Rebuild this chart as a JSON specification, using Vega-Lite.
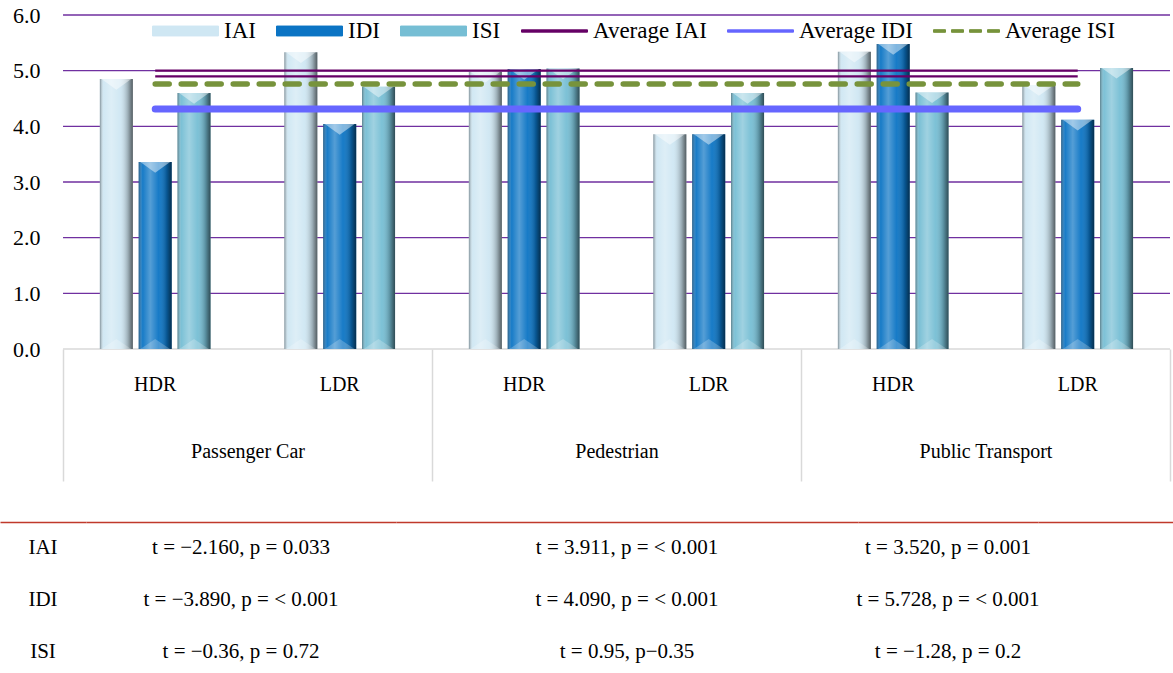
{
  "$schema": "https://vega.github.io/schema/vega-lite/v6.json",
  "padding": {"left": 0, "top": 4, "right": 0, "bottom": 0},
  "background": "white",
  "config": {
    "font": "Liberation Serif",
    "view": {"stroke": null},
    "axis": {"labelColor": "black", "labelFont": "Liberation Serif"},
    "legend": {"labelFont": "Liberation Serif", "labelColor": "black"}
  },
  "datasets": {
    "bars": [
      {"mode": "Passenger Car", "density": "HDR", "cat": "Passenger Car HDR", "series": "IAI", "value": 4.85},
      {"mode": "Passenger Car", "density": "HDR", "cat": "Passenger Car HDR", "series": "IDI", "value": 3.36},
      {"mode": "Passenger Car", "density": "HDR", "cat": "Passenger Car HDR", "series": "ISI", "value": 4.60},
      {"mode": "Passenger Car", "density": "LDR", "cat": "Passenger Car LDR", "series": "IAI", "value": 5.33},
      {"mode": "Passenger Car", "density": "LDR", "cat": "Passenger Car LDR", "series": "IDI", "value": 4.04},
      {"mode": "Passenger Car", "density": "LDR", "cat": "Passenger Car LDR", "series": "ISI", "value": 4.71},
      {"mode": "Pedestrian", "density": "HDR", "cat": "Pedestrian HDR", "series": "IAI", "value": 4.98},
      {"mode": "Pedestrian", "density": "HDR", "cat": "Pedestrian HDR", "series": "IDI", "value": 5.03},
      {"mode": "Pedestrian", "density": "HDR", "cat": "Pedestrian HDR", "series": "ISI", "value": 5.04},
      {"mode": "Pedestrian", "density": "LDR", "cat": "Pedestrian LDR", "series": "IAI", "value": 3.86},
      {"mode": "Pedestrian", "density": "LDR", "cat": "Pedestrian LDR", "series": "IDI", "value": 3.86},
      {"mode": "Pedestrian", "density": "LDR", "cat": "Pedestrian LDR", "series": "ISI", "value": 4.60},
      {"mode": "Public Transport", "density": "HDR", "cat": "Public Transport HDR", "series": "IAI", "value": 5.34},
      {"mode": "Public Transport", "density": "HDR", "cat": "Public Transport HDR", "series": "IDI", "value": 5.48},
      {"mode": "Public Transport", "density": "HDR", "cat": "Public Transport HDR", "series": "ISI", "value": 4.61},
      {"mode": "Public Transport", "density": "LDR", "cat": "Public Transport LDR", "series": "IAI", "value": 4.74},
      {"mode": "Public Transport", "density": "LDR", "cat": "Public Transport LDR", "series": "IDI", "value": 4.12},
      {"mode": "Public Transport", "density": "LDR", "cat": "Public Transport LDR", "series": "ISI", "value": 5.05}
    ],
    "avgs": [
      {"series": "Average IAI", "cat": "Passenger Car HDR", "value": 4.95},
      {"series": "Average IAI", "cat": "Public Transport LDR", "value": 4.95},
      {"series": "Average IDI", "cat": "Passenger Car HDR", "value": 4.31},
      {"series": "Average IDI", "cat": "Public Transport LDR", "value": 4.31},
      {"series": "Average ISI", "cat": "Passenger Car HDR", "value": 4.76},
      {"series": "Average ISI", "cat": "Public Transport LDR", "value": 4.76}
    ],
    "grid": [
      {"group": "Passenger Car", "tick": 0}, {"group": "Pedestrian", "tick": 0}, {"group": "Public Transport", "tick": 0},
      {"group": "Passenger Car", "tick": 1}, {"group": "Pedestrian", "tick": 1}, {"group": "Public Transport", "tick": 1},
      {"group": "Passenger Car", "tick": 2}, {"group": "Pedestrian", "tick": 2}, {"group": "Public Transport", "tick": 2},
      {"group": "Passenger Car", "tick": 3}, {"group": "Pedestrian", "tick": 3}, {"group": "Public Transport", "tick": 3},
      {"group": "Passenger Car", "tick": 4}, {"group": "Pedestrian", "tick": 4}, {"group": "Public Transport", "tick": 4},
      {"group": "Passenger Car", "tick": 5}, {"group": "Pedestrian", "tick": 5}, {"group": "Public Transport", "tick": 5},
      {"group": "Passenger Car", "tick": 6}, {"group": "Pedestrian", "tick": 6}, {"group": "Public Transport", "tick": 6}
    ],
    "stats": [
      {"index": "IAI", "mode": "Passenger Car", "stat": "t = −2.160, p = 0.033"},
      {"index": "IAI", "mode": "Pedestrian", "stat": "t = 3.911, p = < 0.001"},
      {"index": "IAI", "mode": "Public Transport", "stat": "t = 3.520, p = 0.001"},
      {"index": "IDI", "mode": "Passenger Car", "stat": "t = −3.890, p = < 0.001"},
      {"index": "IDI", "mode": "Pedestrian", "stat": "t = 4.090, p = < 0.001"},
      {"index": "IDI", "mode": "Public Transport", "stat": "t = 5.728, p = < 0.001"},
      {"index": "ISI", "mode": "Passenger Car", "stat": "t = −0.36, p = 0.72"},
      {"index": "ISI", "mode": "Pedestrian", "stat": "t = 0.95, p−0.35"},
      {"index": "ISI", "mode": "Public Transport", "stat": "t = −1.28, p = 0.2"}
    ]
  },
  "spacing": 40,
  "vconcat": [
    {
      "width": 1170,
      "height": 334,
      "resolve": {"scale": {"x": "independent"}, "axis": {"x": "independent"}},
      "layer": [
        {
          "data": {"name": "grid"},
          "mark": {"type": "bar", "fill": "transparent", "strokeWidth": 1.4, "strokeJoin": "bevel"},
          "encoding": {
            "x": {
              "field": "group", "type": "nominal",
              "scale": {"type": "band", "domain": ["Passenger Car", "Pedestrian", "Public Transport"], "paddingInner": 0, "paddingOuter": 0.0854, "align": 1},
              "axis": {"orient": "bottom", "title": null, "labelAngle": 0, "labelFontSize": 20, "labelFont": "Liberation Serif", "tickBand": "extent", "ticks": true, "tickSize": 132, "tickColor": "#d9d9d9", "tickWidth": 1.5, "domain": false, "labelPadding": -40, "grid": false}
            },
            "y": {"field": "tick", "type": "quantitative", "scale": {"domain": [0, 6]}, "axis": {"title": null, "orient": "left", "offset": -63, "values": [0, 1, 2, 3, 4, 5, 6], "format": ".1f", "labelFont": "Liberation Serif", "labelFontSize": 22, "labelPadding": 23, "ticks": false, "domain": false, "grid": false}},
            "y2": {"field": "tick"},
            "stroke": {"condition": {"test": "datum.tick === 0", "value": "#d9d9d9"}, "value": "#7030a0"}
          }
        },
        {
          "layer": [
            {
              "data": {"name": "bars"},
              "mark": {"type": "bar"},
              "encoding": {
                "x": {
                  "field": "cat", "type": "nominal",
                  "scale": {"domain": ["Passenger Car HDR", "Passenger Car LDR", "Pedestrian HDR", "Pedestrian LDR", "Public Transport HDR", "Public Transport LDR"], "paddingInner": 0.4, "paddingOuter": 0.3707, "align": 0.73},
                  "axis": {"orient": "bottom", "title": null, "labelExpr": "slice(datum.label, -3)", "labelAngle": 0, "labelFontSize": 20, "labelFont": "Liberation Serif", "labelPadding": 25, "ticks": false, "tickSize": 0, "domain": false, "grid": false}
                },
                "xOffset": {"field": "series", "type": "nominal", "scale": {"domain": ["IAI", "IDI", "ISI"], "paddingInner": 0.15, "paddingOuter": 0}},
                "y": {"field": "value", "type": "quantitative", "axis": {"title": null, "orient": "left", "offset": -63, "values": [0, 1, 2, 3, 4, 5, 6], "format": ".1f", "labelFont": "Liberation Serif", "labelFontSize": 22, "labelPadding": 23, "ticks": false, "domain": false, "grid": false}},
                "color": {
                  "field": "series", "type": "nominal",
                  "scale": {"domain": ["IAI", "IDI", "ISI", "Average IAI", "Average IDI", "Average ISI"], "range": ["#cfe7f3", "#0b74c4", "#76bed4", "#660066", "#6666ff", "#77933c"]},
                  "legend": {
                    "title": null, "orient": "none", "legendX": 152, "legendY": 4, "direction": "horizontal", "clipHeight": 24,
                    "labelFontSize": 23, "labelOffset": 5, "columnPadding": 20, "symbolSize": 4356,
                    "encode": {
                      "symbols": {
                        "update": {
                          "size": {"value": 4356},
                          "shape": {"signal": "datum.value === 'Average ISI' ? 'M-1,-0.04H-0.6364V0.04H-1Z M-0.4545,-0.04H-0.0909V0.04H-0.4545Z M0.0909,-0.04H0.4545V0.04H0.0909Z M0.6364,-0.04H1V0.04H0.6364Z' : indexof(['Average IAI','Average IDI'], datum.value) >= 0 ? 'M-1,-0.035H1V0.035H-1Z' : 'M-1,-0.15H1V0.15H-1Z'"},
                          "fill": {"signal": "datum.value === 'IAI' ? '#d0e8f4' : datum.value === 'IDI' ? '#0a72c0' : datum.value === 'ISI' ? '#78c0d6' : datum.value === 'Average IAI' ? '#660066' : datum.value === 'Average IDI' ? '#6666ff' : '#77933c'"},
                          "stroke": {"signal": "datum.value === 'IAI' ? '#7a8a90' : datum.value === 'IDI' ? '#053d68' : datum.value === 'ISI' ? '#3d7d8e' : datum.value === 'Average IAI' ? '#660066' : datum.value === 'Average IDI' ? '#6666ff' : '#77933c'"},
                          "strokeWidth": {"value": 1},
                          "opacity": {"value": 1}
                        }
                      }
                    }
                  }
                }
              }
            },
            {
              "data": {"name": "bars"},
              "mark": {
                "type": "bar",
                "color": {
                  "gradient": "linear", "x1": 0, "x2": 1, "y1": 0, "y2": 0,
                  "stops": [
                    {"offset": 0, "color": "rgba(60,70,75,0.55)"},
                    {"offset": 0.12, "color": "rgba(255,255,255,0.05)"},
                    {"offset": 0.35, "color": "rgba(255,255,255,0.3)"},
                    {"offset": 0.6, "color": "rgba(255,255,255,0.05)"},
                    {"offset": 0.85, "color": "rgba(0,0,0,0.25)"},
                    {"offset": 1, "color": "rgba(0,0,0,0.6)"}
                  ]
                }
              },
              "encoding": {
                "x": {"field": "cat", "type": "nominal"},
                "xOffset": {"field": "series", "type": "nominal"},
                "y": {"field": "value", "type": "quantitative"}
              }
            },
            {
              "data": {"name": "bars"},
              "mark": {"type": "point", "shape": "M-0.9,0H0.9L0,0.65Z", "filled": true, "color": "white", "opacity": 0.45, "size": 1089, "strokeWidth": 0},
              "encoding": {
                "x": {"field": "cat", "type": "nominal"},
                "xOffset": {"field": "series", "type": "nominal"},
                "y": {"field": "value", "type": "quantitative"}
              }
            },
            {
              "data": {"name": "bars"},
              "mark": {"type": "point", "shape": "M-0.9,0H0.9L0,-0.6Z", "filled": true, "color": "white", "opacity": 0.22, "size": 1089, "strokeWidth": 0},
              "encoding": {
                "x": {"field": "cat", "type": "nominal"},
                "xOffset": {"field": "series", "type": "nominal"},
                "y": {"datum": 0, "type": "quantitative"}
              }
            },
            {
              "data": {"name": "avgs"},
              "transform": [{"filter": "datum.series === 'Average IDI'"}],
              "mark": {"type": "line", "strokeCap": "round", "strokeWidth": 7},
              "encoding": {
                "x": {"field": "cat", "type": "nominal"},
                "y": {"field": "value", "type": "quantitative"},
                "color": {
                  "field": "series", "type": "nominal",
                  "legend": {
                    "title": null, "orient": "none", "legendX": 152, "legendY": 4, "direction": "horizontal", "clipHeight": 24,
                    "labelFontSize": 23, "labelOffset": 5, "columnPadding": 20, "symbolSize": 4356,
                    "encode": {
                      "symbols": {
                        "update": {
                          "size": {"value": 4356},
                          "shape": {"signal": "datum.value === 'Average ISI' ? 'M-1,-0.04H-0.6364V0.04H-1Z M-0.4545,-0.04H-0.0909V0.04H-0.4545Z M0.0909,-0.04H0.4545V0.04H0.0909Z M0.6364,-0.04H1V0.04H0.6364Z' : indexof(['Average IAI','Average IDI'], datum.value) >= 0 ? 'M-1,-0.035H1V0.035H-1Z' : 'M-1,-0.15H1V0.15H-1Z'"},
                          "fill": {"signal": "datum.value === 'IAI' ? '#d0e8f4' : datum.value === 'IDI' ? '#0a72c0' : datum.value === 'ISI' ? '#78c0d6' : datum.value === 'Average IAI' ? '#660066' : datum.value === 'Average IDI' ? '#6666ff' : '#77933c'"},
                          "stroke": {"signal": "datum.value === 'IAI' ? '#7a8a90' : datum.value === 'IDI' ? '#053d68' : datum.value === 'ISI' ? '#3d7d8e' : datum.value === 'Average IAI' ? '#660066' : datum.value === 'Average IDI' ? '#6666ff' : '#77933c'"},
                          "strokeWidth": {"value": 1},
                          "opacity": {"value": 1}
                        }
                      }
                    }
                  }
                }
              }
            },
            {
              "data": {"name": "avgs"},
              "transform": [{"filter": "datum.series === 'Average ISI'"}],
              "mark": {"type": "line", "strokeCap": "round", "strokeWidth": 5.5, "strokeDash": [14, 12]},
              "encoding": {
                "x": {"field": "cat", "type": "nominal"},
                "y": {"field": "value", "type": "quantitative"},
                "color": {
                  "field": "series", "type": "nominal",
                  "legend": {
                    "title": null, "orient": "none", "legendX": 152, "legendY": 4, "direction": "horizontal", "clipHeight": 24,
                    "labelFontSize": 23, "labelOffset": 5, "columnPadding": 20, "symbolSize": 4356,
                    "encode": {
                      "symbols": {
                        "update": {
                          "size": {"value": 4356},
                          "shape": {"signal": "datum.value === 'Average ISI' ? 'M-1,-0.04H-0.6364V0.04H-1Z M-0.4545,-0.04H-0.0909V0.04H-0.4545Z M0.0909,-0.04H0.4545V0.04H0.0909Z M0.6364,-0.04H1V0.04H0.6364Z' : indexof(['Average IAI','Average IDI'], datum.value) >= 0 ? 'M-1,-0.035H1V0.035H-1Z' : 'M-1,-0.15H1V0.15H-1Z'"},
                          "fill": {"signal": "datum.value === 'IAI' ? '#d0e8f4' : datum.value === 'IDI' ? '#0a72c0' : datum.value === 'ISI' ? '#78c0d6' : datum.value === 'Average IAI' ? '#660066' : datum.value === 'Average IDI' ? '#6666ff' : '#77933c'"},
                          "stroke": {"signal": "datum.value === 'IAI' ? '#7a8a90' : datum.value === 'IDI' ? '#053d68' : datum.value === 'ISI' ? '#3d7d8e' : datum.value === 'Average IAI' ? '#660066' : datum.value === 'Average IDI' ? '#6666ff' : '#77933c'"},
                          "strokeWidth": {"value": 1},
                          "opacity": {"value": 1}
                        }
                      }
                    }
                  }
                }
              }
            },
            {
              "data": {"name": "avgs"},
              "transform": [{"filter": "datum.series === 'Average IAI'"}],
              "mark": {"type": "line", "color": "#660066", "strokeWidth": 2.3, "yOffset": -2.9},
              "encoding": {
                "x": {"field": "cat", "type": "nominal"},
                "y": {"field": "value", "type": "quantitative"}
              }
            },
            {
              "data": {"name": "avgs"},
              "transform": [{"filter": "datum.series === 'Average IAI'"}],
              "mark": {"type": "line", "color": "#660066", "strokeWidth": 2.3, "yOffset": 2.9},
              "encoding": {
                "x": {"field": "cat", "type": "nominal"},
                "y": {"field": "value", "type": "quantitative"}
              }
            }
          ]
        }
      ]
    },
    {
      "spacing": 0,
      "bounds": "flush",
      "hconcat": [
        {
          "width": 86, "height": 156,
          "data": {"name": "stats"},
          "transform": [{"filter": "datum.mode === 'Passenger Car'"}],
          "mark": {"type": "text", "fontSize": 21, "font": "Liberation Serif", "color": "black"},
          "encoding": {
            "x": {"field": "mode", "type": "nominal", "axis": {"orient": "top", "title": null, "labels": false, "ticks": false, "domainColor": "#c0392b", "domainWidth": 1.5}},
            "y": {"field": "index", "type": "nominal", "scale": {"type": "band", "domain": ["IAI", "IDI", "ISI"], "paddingInner": 0, "paddingOuter": 0}, "axis": null},
            "text": {"field": "index"}
          }
        },
        {
          "width": 310, "height": 156,
          "data": {"name": "stats"},
          "transform": [{"filter": "datum.mode === 'Passenger Car'"}],
          "mark": {"type": "text", "fontSize": 21, "font": "Liberation Serif", "color": "black"},
          "encoding": {
            "x": {"field": "mode", "type": "nominal", "axis": {"orient": "top", "title": null, "labels": false, "ticks": false, "domainColor": "#c0392b", "domainWidth": 1.5}},
            "y": {"field": "index", "type": "nominal", "scale": {"type": "band", "domain": ["IAI", "IDI", "ISI"], "paddingInner": 0, "paddingOuter": 0}, "axis": null},
            "text": {"field": "stat"}
          }
        },
        {
          "width": 462, "height": 156,
          "data": {"name": "stats"},
          "transform": [{"filter": "datum.mode === 'Pedestrian'"}],
          "mark": {"type": "text", "fontSize": 21, "font": "Liberation Serif", "color": "black"},
          "encoding": {
            "x": {"field": "mode", "type": "nominal", "axis": {"orient": "top", "title": null, "labels": false, "ticks": false, "domainColor": "#c0392b", "domainWidth": 1.5}},
            "y": {"field": "index", "type": "nominal", "scale": {"type": "band", "domain": ["IAI", "IDI", "ISI"], "paddingInner": 0, "paddingOuter": 0}, "axis": null},
            "text": {"field": "stat"}
          }
        },
        {
          "width": 180, "height": 156,
          "data": {"name": "stats"},
          "transform": [{"filter": "datum.mode === 'Public Transport'"}],
          "mark": {"type": "text", "fontSize": 21, "font": "Liberation Serif", "color": "black"},
          "encoding": {
            "x": {"field": "mode", "type": "nominal", "axis": {"orient": "top", "title": null, "labels": false, "ticks": false, "domainColor": "#c0392b", "domainWidth": 1.5}},
            "y": {"field": "index", "type": "nominal", "scale": {"type": "band", "domain": ["IAI", "IDI", "ISI"], "paddingInner": 0, "paddingOuter": 0}, "axis": null},
            "text": {"field": "stat"}
          }
        },
        {
          "width": 135, "height": 156,
          "data": {"name": "stats"},
          "transform": [{"filter": "datum.mode === 'Public Transport'"}],
          "mark": {"type": "text", "fontSize": 21, "color": "black"},
          "encoding": {
            "x": {"field": "mode", "type": "nominal", "axis": {"orient": "top", "title": null, "labels": false, "ticks": false, "domainColor": "#c0392b", "domainWidth": 1.5}},
            "y": {"field": "index", "type": "nominal", "scale": {"type": "band", "domain": ["IAI", "IDI", "ISI"], "paddingInner": 0, "paddingOuter": 0}, "axis": null},
            "text": {"value": ""}
          }
        }
      ]
    }
  ]
}
